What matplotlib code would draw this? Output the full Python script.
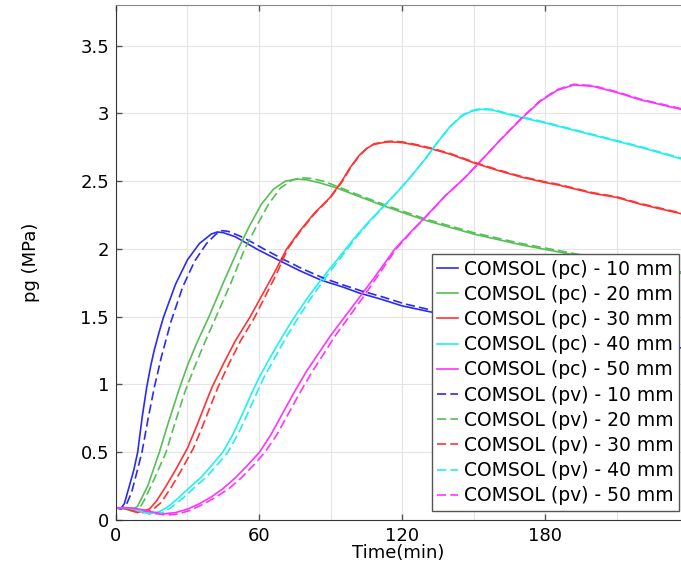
import matplotlib
matplotlib.use("Agg")
import matplotlib.pyplot as plt
from matplotlib.ticker import MultipleLocator, FormatStrFormatter

# time (min) and gas pressure pg (MPa)
t_pc_10 = [0, 2, 3.5, 5.6, 7.5, 9.1, 11, 12.9, 14.5, 16, 18, 20, 25, 30, 35, 40, 42.5, 45, 50, 55, 60, 69, 77, 86, 95, 102, 111, 120, 132, 150, 180, 210, 237]
p_pc_10 = [0.09, 0.085, 0.12, 0.25, 0.37, 0.5, 0.76, 0.98, 1.13, 1.25, 1.38, 1.5, 1.74, 1.92, 2.04, 2.11, 2.125, 2.12, 2.09, 2.04, 1.99, 1.91, 1.84, 1.77, 1.72, 1.675, 1.63, 1.58, 1.535, 1.47, 1.39, 1.32, 1.27]

t_pc_20 = [0, 3, 6, 9, 13.3, 18.2, 22, 26.4, 30, 34, 39, 45, 51.3, 56, 61, 66, 71, 76, 80, 85, 92.6, 100, 112, 120, 130, 140, 150, 160, 170, 182, 200, 220, 237]
p_pc_20 = [0.09, 0.085, 0.07, 0.1, 0.25, 0.5, 0.72, 0.96, 1.14, 1.31, 1.5, 1.75, 2.0, 2.17, 2.33, 2.44, 2.5, 2.515, 2.51, 2.49, 2.45, 2.4, 2.32, 2.27, 2.21, 2.16, 2.11, 2.07, 2.03, 1.99, 1.93, 1.87, 1.82]

t_pc_30 = [0, 4, 9, 14, 17, 21, 25, 30, 34, 37.8, 40.3, 45, 50, 56.3, 61, 66, 71.6, 77, 83, 89.8, 94.7, 98.2, 102, 105, 108, 112, 115, 120, 126, 132, 140, 151, 160, 170, 180, 186, 200, 210, 220, 237]
p_pc_30 = [0.09, 0.085, 0.055, 0.08, 0.14, 0.25, 0.37, 0.53, 0.7, 0.87, 0.98, 1.15, 1.32, 1.5, 1.65, 1.81, 2.0, 2.13, 2.26, 2.38, 2.5, 2.6, 2.69, 2.74, 2.77, 2.785, 2.79, 2.785, 2.765, 2.74, 2.7, 2.63, 2.58, 2.53, 2.49, 2.47, 2.41, 2.38, 2.33, 2.26]

t_pc_40 = [0, 4, 8, 11, 14, 18, 22, 26, 31.5, 36, 40, 44.8, 49, 53, 56.5, 60, 65, 70, 74.2, 80, 86.3, 90, 95.5, 100, 106, 112, 118, 124, 130, 135, 140, 145, 149, 153, 158, 163, 170, 180, 190, 200, 210, 220, 237]
p_pc_40 = [0.09, 0.09, 0.08, 0.06, 0.045, 0.06, 0.1, 0.16, 0.25, 0.32, 0.4, 0.5, 0.63, 0.78, 0.92, 1.05, 1.21, 1.36, 1.48, 1.63, 1.78, 1.86, 1.98, 2.08, 2.2, 2.31, 2.42, 2.54, 2.67, 2.79, 2.9, 2.98, 3.015, 3.03, 3.025, 3.0, 2.97, 2.93, 2.885, 2.84, 2.795, 2.75, 2.665]

t_pc_50 = [0, 5, 10, 15, 20, 25, 30, 35, 40, 44.8, 50, 55, 60.2, 65, 70, 75, 80, 85, 90, 96, 102, 108, 117, 125, 130, 138, 146, 152.5, 161, 170, 178, 185, 192, 200, 210, 220, 237]
p_pc_50 = [0.09, 0.09, 0.08, 0.06, 0.045, 0.055, 0.08, 0.12, 0.17, 0.23, 0.31, 0.4, 0.5, 0.63, 0.79, 0.95, 1.1, 1.23, 1.36, 1.5, 1.64, 1.78, 2.0, 2.15, 2.24, 2.39, 2.52, 2.64, 2.8, 2.96, 3.09, 3.17, 3.21, 3.2, 3.155, 3.1, 3.03]

t_pv_10 = [0, 2, 4, 6.5, 8, 10.9, 13.5, 16.1, 19, 23, 28, 33, 38, 42, 44.5, 47, 52, 57, 62, 70, 78, 87, 96, 103, 112, 121, 132, 150, 180, 210, 237]
p_pv_10 = [0.09, 0.08, 0.1, 0.2, 0.3, 0.5, 0.75, 0.98, 1.2, 1.46, 1.72, 1.91, 2.04, 2.11, 2.135, 2.13, 2.095, 2.05, 2.0, 1.925, 1.855, 1.785, 1.73, 1.69, 1.645, 1.595, 1.55, 1.485, 1.4, 1.33, 1.28]

t_pv_20 = [0, 3, 7, 10, 12, 16, 21, 25, 29, 33, 37, 42, 48, 54, 59, 64, 69, 74, 78, 82, 87, 93, 100, 112, 120, 130, 140, 150, 160, 170, 182, 200, 220, 237]
p_pv_20 = [0.09, 0.085, 0.065, 0.09, 0.15, 0.3, 0.5, 0.73, 0.95, 1.13, 1.3, 1.5, 1.74, 2.0, 2.17, 2.33, 2.45, 2.51, 2.525, 2.52, 2.5, 2.46, 2.41, 2.33, 2.28, 2.22, 2.17, 2.12, 2.08, 2.04, 2.0, 1.94, 1.88, 1.83]

t_pv_30 = [0, 4, 10, 15, 19, 23.5, 27.5, 32.5, 36.5, 40.3, 42.8, 47.3, 52.2, 58.3, 62.6, 67.2, 72, 77.3, 83.3, 90, 95, 98.4, 102.2, 105.2, 108.2, 112.2, 115.2, 120, 126, 132, 140, 151, 160, 170, 180, 186, 200, 210, 220, 237]
p_pv_30 = [0.09, 0.085, 0.05, 0.07, 0.13, 0.25, 0.37, 0.53, 0.7, 0.87, 0.98, 1.15, 1.32, 1.5, 1.65, 1.81, 2.0, 2.13, 2.26, 2.38, 2.5, 2.6, 2.69, 2.74, 2.775, 2.79, 2.795, 2.79, 2.77, 2.745, 2.705, 2.635, 2.585, 2.535, 2.495, 2.475, 2.415, 2.385, 2.335, 2.265]

t_pv_40 = [0, 4, 8, 12, 15, 19, 23, 28, 33.6, 38.1, 42.1, 46.9, 51.1, 55.1, 58.6, 62, 67, 71.8, 76, 81.5, 87.5, 91, 96.2, 100.5, 106.3, 112.2, 118, 124, 130, 135, 140, 145, 149, 153, 158, 163, 170, 180, 190, 200, 210, 220, 237]
p_pv_40 = [0.09, 0.09, 0.08, 0.055, 0.04, 0.05, 0.09, 0.16, 0.25, 0.32, 0.4, 0.5, 0.63, 0.78, 0.92, 1.05, 1.21, 1.36, 1.48, 1.63, 1.78, 1.86, 1.98, 2.08, 2.2, 2.31, 2.42, 2.54, 2.67, 2.79, 2.9, 2.985, 3.02, 3.035, 3.03, 3.005, 2.975, 2.935, 2.89, 2.845, 2.8, 2.755, 2.67]

t_pv_50 = [0, 5, 10, 15, 21, 26, 31, 37, 42, 47.3, 52.5, 57.5, 62.5, 67.5, 72.5, 77.5, 82.5, 87.3, 92, 97.8, 103.5, 109, 117.5, 125.2, 130.2, 138, 146, 152.5, 161, 170, 178, 185, 192, 200, 210, 220, 237]
p_pv_50 = [0.09, 0.09, 0.08, 0.055, 0.035, 0.045, 0.07, 0.12, 0.17, 0.23, 0.31, 0.4, 0.5, 0.63, 0.79, 0.95, 1.1, 1.23, 1.36, 1.5, 1.64, 1.78, 2.0, 2.15, 2.24, 2.39, 2.52, 2.64, 2.8, 2.965, 3.095, 3.175, 3.215, 3.205, 3.16, 3.105, 3.035]

sizes = ["10", "20", "30", "40", "50"]
colors = ["#2b2bf5", "#55c055", "#ff3333", "#22f0f0", "#ff33ff"]
pc_series = [(t_pc_10, p_pc_10), (t_pc_20, p_pc_20), (t_pc_30, p_pc_30), (t_pc_40, p_pc_40), (t_pc_50, p_pc_50)]
pv_series = [(t_pv_10, p_pv_10), (t_pv_20, p_pv_20), (t_pv_30, p_pv_30), (t_pv_40, p_pv_40), (t_pv_50, p_pv_50)]

fig = plt.figure(figsize=(6.81, 5.66), dpi=100)
ax = fig.add_axes([0.1703, 0.0813, 0.8297, 0.9099])

for (t, p), size, c in zip(pc_series, sizes, colors):
    ax.plot(t, p, color=c, lw=1.2, label=f"COMSOL (pc) - {size} mm")
for (t, p), size, c in zip(pv_series, sizes, colors):
    ax.plot(t, p, color=c, lw=1.2, linestyle=(0, (5.5, 2.5)), label=f"COMSOL (pv) - {size} mm")

ax.set_xlim(0, 237)
ax.set_ylim(0, 3.8)
ax.xaxis.set_major_locator(MultipleLocator(60))
ax.xaxis.set_minor_locator(MultipleLocator(30))
ax.yaxis.set_major_locator(MultipleLocator(0.5))
ax.yaxis.set_major_formatter(FormatStrFormatter("%g"))
ax.grid(True, which="both", color="#e4e4e4", lw=0.8)
ax.set_axisbelow(True)

ax.tick_params(which="major", direction="in", length=4, width=1, color="#555555",
               labelsize=13, top=True, right=False, pad=5)
ax.tick_params(which="minor", length=0)
ax.spines["right"].set_visible(False)
for s in ["left", "bottom"]:
    ax.spines[s].set_color("#333333")
ax.spines["top"].set_color("#888888")

ax.set_xlabel("Time(min)", fontsize=13)
ax.set_ylabel("pg (MPa)", fontsize=13)
ax.xaxis.set_label_coords(0.5, -0.047)
ax.yaxis.set_label_coords(-0.135, 0.5)

leg = ax.legend(loc="lower right", bbox_to_anchor=(0.9965, 0.0175), borderaxespad=0,
                fontsize=13.5, labelspacing=0.33, handlelength=1.1, handletextpad=0.3,
                borderpad=0.3, fancybox=False, framealpha=1, edgecolor="#555555")
leg.get_frame().set_linewidth(1.0)

fig.savefig("out.png", dpi=100)
